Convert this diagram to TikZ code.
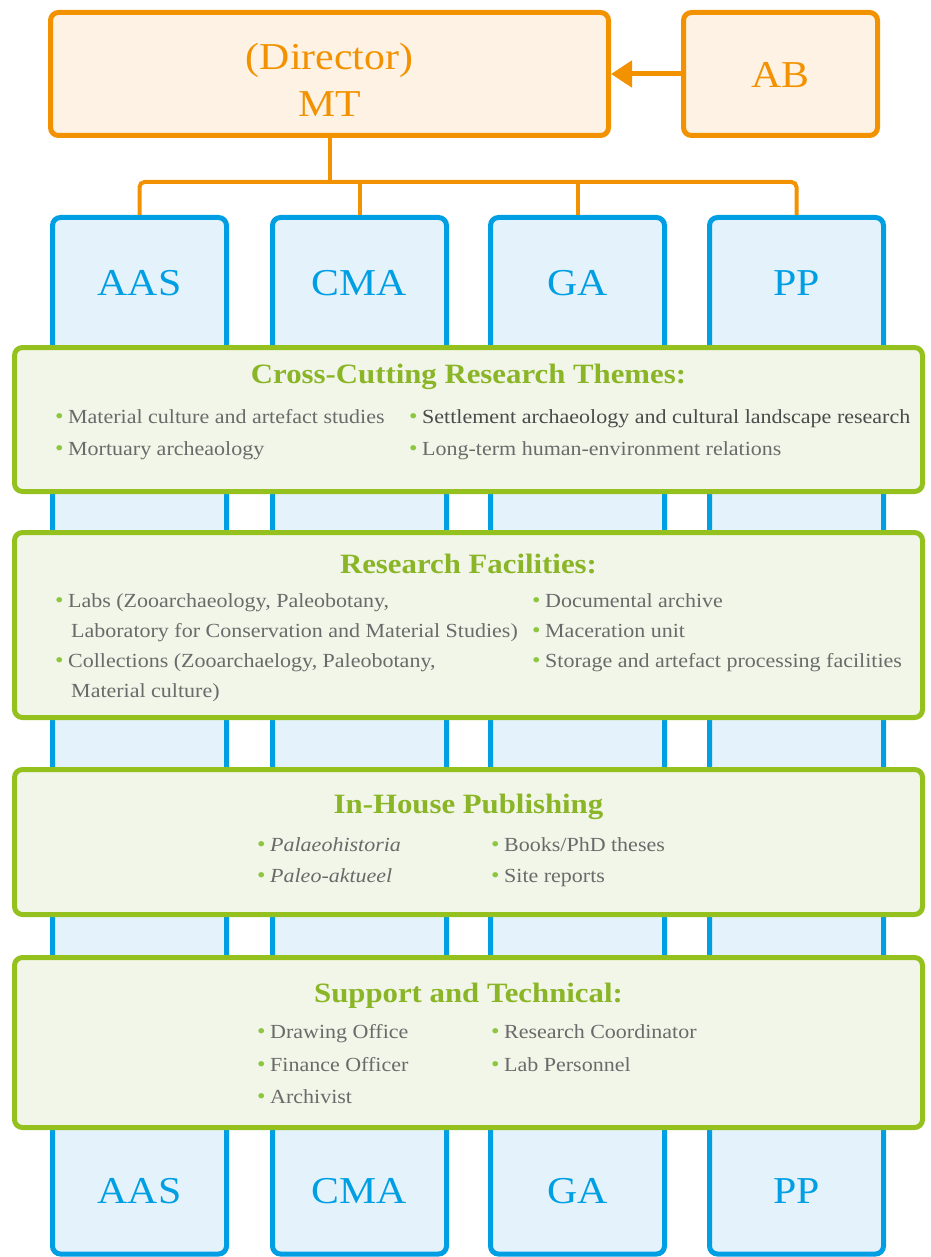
\documentclass[tikz,border=0pt]{standalone}
\usepackage{fontspec}
\setmainfont[FakeStretch=1.1]{Liberation Serif}
\usetikzlibrary{arrows.meta}
\definecolor{org}{HTML}{F39200}
\definecolor{orgfill}{HTML}{FDF2E3}
\definecolor{blu}{HTML}{009FE3}
\definecolor{blufill}{HTML}{E4F3FB}
\definecolor{grn}{HTML}{95C11F}
\definecolor{grnfill}{HTML}{F2F6E8}
\definecolor{grntext}{HTML}{8AB526}
\definecolor{bulgrn}{HTML}{8DC63F}
\definecolor{txt}{HTML}{6A6A6A}
\definecolor{txtdark}{HTML}{4A4A4A}
\newcommand{\bul}{{\color{bulgrn}\fontsize{22}{22}\selectfont •}\hspace{4.5pt}}
\begin{document}
\begin{tikzpicture}[x=1pt,y=-1pt,
  obox/.style={draw=org, fill=orgfill, line width=5pt, rounded corners=8pt, inner sep=0pt},
  bbox/.style={draw=blu, fill=blufill, line width=5pt, rounded corners=8pt, inner sep=0pt, minimum width=174pt, minimum height=1036.5pt},
  gbox/.style={draw=grn, fill=grnfill, line width=5pt, rounded corners=8pt, inner sep=0pt, minimum width=908pt},
  olab/.style={anchor=base, inner sep=0pt, text=org, font=\fontsize{38}{40}\selectfont},
  blab/.style={anchor=base, inner sep=0pt, text=blu, font=\fontsize{38}{40}\selectfont},
  gtitle/.style={anchor=base, inner sep=0pt, text=grntext, font=\fontsize{28}{30}\selectfont\bfseries},
  item/.style={anchor=base west, inner sep=0pt, text=txt, font=\fontsize{20}{24}\selectfont},
  conn/.style={draw=org, line width=4pt}
]
\useasboundingbox (0,0) rectangle (930,1257);

% top boxes
\node[obox, minimum width=558pt, minimum height=123pt] (dir) at (329.5,74) {};
\node[obox, minimum width=194pt, minimum height=123pt] (ab) at (780.5,74) {};
\node[olab] (dirT) at (329.5,70) {(Director)};
\node[olab] (dirM) at (329.5,117) {MT};
\node[olab] (abT) at (780.5,88) {AB};
\draw[org, line width=5pt, -{Triangle[length=21pt,width=26pt]}] (ab.west) -- (dir.east);

% columns
\node[bbox] (c1) at (139.5,735.75) {};
\node[bbox] (c2) at (359.5,735.75) {};
\node[bbox] (c3) at (577.5,735.75) {};
\node[bbox] (c4) at (796.5,735.75) {};
\node[blab] (c1t) at (139.5,295) {AAS};
\node[blab] (c2t) at (359.5,295) {CMA};
\node[blab] (c3t) at (577.5,295) {GA};
\node[blab] (c4t) at (796.5,295) {PP};
\node[blab] (c1b) at (139.5,1203) {AAS};
\node[blab] (c2b) at (359.5,1203) {CMA};
\node[blab] (c3b) at (577.5,1203) {GA};
\node[blab] (c4b) at (796.5,1203) {PP};

% connectors
\coordinate (bus) at (329.5,182);
\draw[conn] (dir.south) -- (bus);
\draw[conn, rounded corners=5pt] (c1.north) |- (bus) -| (c4.north);
\draw[conn] (c2.north) -- (c2.north |- bus);
\draw[conn] (c3.north) -- (c3.north |- bus);

% panel 1
\node[gbox, minimum height=144pt] (p1) at (468.5,419.5) {};
\node[gtitle] (p1t) at (468.5,383) {Cross-Cutting Research Themes:};
\node[item] (p1a) at (55,423) {\bul Material culture and artefact studies};
\node[item] (p1b) at (55,455) {\bul Mortuary archeaology};
\node[item] (p1c) at (409,423) {\bul \textcolor{txtdark}{Settlement archaeology and cultural landscape research}};
\node[item] (p1d) at (409,455) {\bul Long-term human-environment relations};

% panel 2
\node[gbox, minimum height=185pt] (p2) at (468.5,625) {};
\node[gtitle] (p2t) at (468.5,573) {Research Facilities:};
\node[item] (p2a) at (55,607) {\bul Labs (Zooarchaeology, Paleobotany,};
\node[item] (p2b) at (71,637) {Laboratory for Conservation and Material Studies)};
\node[item] (p2c) at (55,667) {\bul Collections (Zooarchaelogy, Paleobotany,};
\node[item] (p2d) at (71,697) {Material culture)};
\node[item] (p2e) at (532,607) {\bul Documental archive};
\node[item] (p2f) at (532,637) {\bul Maceration unit};
\node[item] (p2g) at (532,667) {\bul Storage and artefact processing facilities};

% panel 3
\node[gbox, minimum height=145pt] (p3) at (468.5,842) {};
\node[gtitle] (p3t) at (468.5,813) {In-House Publishing};
\node[item] (p3a) at (257,851) {\bul \textit{Palaeohistoria}};
\node[item] (p3b) at (257,882) {\bul \textit{Paleo-aktueel}};
\node[item] (p3c) at (491,851) {\bul Books/PhD theses};
\node[item] (p3d) at (491,882) {\bul Site reports};

% panel 4
\node[gbox, minimum height=170pt] (p4) at (468.5,1042.5) {};
\node[gtitle] (p4t) at (468.5,1002) {Support and Technical:};
\node[item] (p4a) at (257,1038) {\bul Drawing Office};
\node[item] (p4b) at (257,1071) {\bul Finance Officer};
\node[item] (p4c) at (257,1103) {\bul Archivist};
\node[item] (p4d) at (491,1038) {\bul Research Coordinator};
\node[item] (p4e) at (491,1071) {\bul Lab Personnel};
\end{tikzpicture}
\end{document}
